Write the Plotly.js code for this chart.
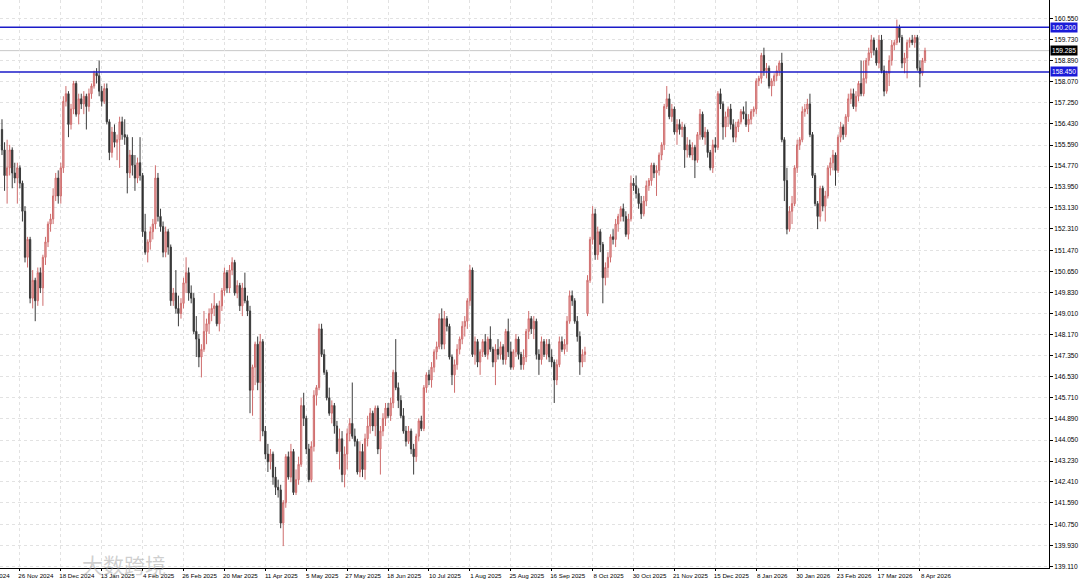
<!DOCTYPE html>
<html><head><meta charset="utf-8">
<script src="https://cdn.plot.ly/plotly-3.0.1.min.js"></script>
<style>html,body{margin:0;padding:0;background:#fff;overflow:hidden}#chart{width:1080px;height:583px}</style>
</head><body><div id="chart"></div>
<script>
const openP = [
156.2,155.4,154.4,154.7,155.4,154.5,154.3,154.7,154.1,153.0,
151.2,151.9,149.6,150.3,149.5,150.6,150.0,151.2,151.8,152.5,
152.7,153.6,154.3,153.6,154.7,157.3,157.6,156.4,157.0,158.0,
156.8,157.4,157.2,157.5,157.1,157.6,157.9,158.4,158.3,157.7,
157.3,157.8,156.5,155.3,156.1,155.7,155.8,156.5,156.0,155.9,
154.5,155.2,154.8,154.3,154.9,154.4,152.2,151.4,151.8,152.2,
152.5,154.3,152.8,152.4,151.4,152.2,151.6,149.5,149.8,149.2,
149.0,149.4,150.2,150.6,149.8,149.6,148.3,148.0,147.3,147.6,
148.3,148.6,149.0,149.2,149.3,148.6,149.3,149.9,150.6,150.0,
150.7,151.0,149.8,150.1,149.3,150.0,149.5,149.1,146.0,146.9,
147.8,146.3,147.9,144.4,143.5,143.2,143.5,142.6,142.2,142.1,
140.8,141.6,143.4,142.6,143.6,142.0,142.5,143.1,145.4,144.9,
143.7,142.5,143.8,145.8,146.1,148.4,147.4,146.7,145.7,145.1,
145.4,144.6,143.6,144.1,142.7,143.5,144.3,144.7,144.2,144.0,
142.8,143.6,142.9,144.1,144.6,145.1,144.6,145.3,143.7,144.4,
144.9,145.3,145.0,145.5,146.7,146.1,145.6,145.0,144.4,144.0,
144.4,143.7,143.4,144.2,144.8,144.5,146.1,146.6,146.4,146.9,
147.5,147.7,148.8,147.8,148.8,148.5,147.3,146.6,147.0,147.6,
148.0,148.5,148.7,149.5,150.7,147.4,147.9,147.1,147.5,147.9,
147.4,148.0,147.6,147.1,147.6,147.4,147.7,147.2,148.3,147.5,
146.9,147.5,148.0,147.4,147.0,147.3,148.3,148.8,148.4,148.7,
147.4,147.2,147.9,147.4,147.8,147.3,147.1,146.4,147.0,147.9,
147.6,147.8,148.7,149.7,149.5,148.7,148.1,147.1,147.4,149.0,
150.3,151.9,152.9,151.3,152.2,151.7,150.4,150.8,151.2,152.0,
151.9,152.5,152.8,153.1,152.8,152.1,152.7,154.1,154.0,153.7,
153.3,152.9,153.4,154.0,154.2,154.8,154.5,154.6,155.2,155.6,
157.1,157.4,156.7,157.0,156.1,156.4,156.2,156.3,155.4,155.6,
155.2,155.5,155.0,156.0,156.8,155.9,156.1,155.3,154.7,155.6,
155.5,157.6,157.2,156.3,156.7,157.0,156.4,155.9,156.3,156.5,
156.9,156.8,156.4,156.6,156.9,157.0,158.1,158.2,159.1,158.5,
158.6,157.9,158.1,158.3,158.5,158.8,155.8,154.2,152.3,153.0,
153.3,154.7,155.6,155.8,156.9,157.0,157.2,156.0,154.4,153.3,
152.8,153.9,153.2,153.6,154.7,154.9,155.2,154.6,155.9,156.3,
156.0,156.7,157.4,157.6,157.1,157.5,158.0,157.6,158.2,158.9,
159.2,159.7,159.3,158.8,159.7,158.5,157.7,158.4,158.9,159.5,
159.6,160.2,159.8,158.8,159.0,159.6,159.7,159.6,159.8,158.6,
158.4,158.9];
const highP = [
156.6,155.7,155.8,155.6,155.5,154.9,154.9,154.8,154.2,153.2,
152.0,152.0,150.7,150.4,150.8,150.8,151.3,152.0,152.6,152.9,
153.9,154.5,154.6,154.9,157.5,157.9,157.7,157.2,158.1,158.1,
157.6,157.6,157.7,157.6,157.8,158.0,158.5,158.6,158.9,157.9,
158.0,158.0,156.6,156.3,156.4,156.0,156.7,156.7,156.6,156.0,
155.4,155.9,155.2,155.1,155.9,154.5,152.9,151.9,152.4,152.7,
154.8,154.5,153.1,152.6,152.4,152.3,151.7,150.0,150.7,149.7,
149.6,150.4,151.2,150.8,150.1,149.8,148.9,148.2,147.8,149.1,
148.8,149.2,149.4,149.8,149.4,149.5,150.0,150.8,150.7,150.9,
151.2,151.1,150.3,150.2,150.2,150.6,149.7,149.3,147.0,147.9,
148.1,148.2,148.0,144.6,143.9,143.7,143.6,143.0,142.5,142.3,
141.7,143.5,143.6,143.9,143.7,142.9,143.4,145.7,145.9,145.0,
143.9,144.0,146.0,146.2,148.6,148.6,147.6,146.8,146.1,145.6,
145.5,144.8,144.5,144.4,143.8,144.5,144.9,146.3,144.5,144.1,
144.0,143.9,144.3,145.0,145.3,145.2,145.4,145.4,144.6,145.1,
145.5,145.5,145.7,146.8,148.0,146.3,145.8,145.3,144.6,144.6,
144.5,143.9,144.3,144.9,145.0,146.2,146.7,146.8,147.1,147.6,
147.9,149.0,149.2,149.1,148.9,148.6,147.4,147.2,147.8,148.1,
148.7,148.9,149.6,150.9,150.8,148.1,148.0,147.6,148.0,148.2,
148.1,148.5,147.7,147.8,148.0,147.9,147.8,148.4,148.8,147.9,
147.6,148.2,148.1,147.5,147.6,148.4,149.1,148.9,148.9,148.8,
147.6,148.1,148.0,148.0,148.0,147.6,147.2,147.2,148.1,148.1,
148.0,148.9,149.9,149.9,149.6,148.9,148.3,147.6,147.7,150.5,
152.0,153.2,153.1,152.4,152.3,151.8,151.0,151.4,152.1,152.3,
152.7,152.9,153.2,153.3,153.0,152.9,154.4,154.3,154.4,153.9,
153.6,153.6,154.2,154.3,154.9,154.9,154.8,155.3,155.7,157.2,
157.9,157.6,157.2,157.1,156.6,156.6,156.5,156.4,155.9,155.8,
155.7,155.6,156.1,157.0,156.9,156.3,156.2,155.4,155.8,155.9,
157.7,157.8,157.3,156.9,157.1,157.2,156.6,156.5,156.6,157.0,
157.1,157.3,156.8,157.0,157.1,158.2,158.3,159.2,159.4,158.8,
158.7,158.2,158.4,158.7,158.9,159.2,155.9,154.7,153.2,153.6,
154.8,155.8,155.9,157.1,157.2,157.4,157.6,156.1,154.5,153.4,
154.0,154.0,153.8,154.8,155.1,155.4,155.3,156.0,156.5,156.4,
156.8,157.6,157.8,157.8,157.7,158.1,158.9,158.9,159.0,159.4,
159.9,159.8,159.4,159.9,159.9,158.7,158.5,159.1,159.7,159.7,
160.5,160.3,159.9,159.2,159.7,159.8,159.9,159.9,159.9,158.9,
159.0,159.4];
const lowP = [
155.2,153.8,153.3,154.4,153.9,154.1,153.3,153.9,152.6,151.0,
150.8,149.4,149.2,148.7,149.3,149.8,149.3,150.9,151.6,152.2,
152.5,153.4,153.3,153.3,154.5,157.1,155.9,156.2,156.8,156.7,
156.4,157.0,156.8,156.2,156.9,157.4,157.8,158.0,157.5,157.1,
157.2,156.4,155.0,155.1,155.5,155.0,154.7,155.8,155.6,153.7,
154.3,154.4,153.8,154.1,154.2,152.0,151.3,151.0,151.5,151.9,
152.3,152.6,152.2,151.2,151.2,151.3,149.3,149.3,149.0,148.5,
148.8,149.2,149.8,149.5,149.4,148.2,147.3,146.9,146.5,147.5,
147.8,148.2,148.7,148.9,148.5,148.3,149.1,149.7,149.8,149.8,
150.5,149.7,149.6,149.1,148.9,149.4,148.9,145.1,145.0,146.2,
146.0,144.0,144.2,143.3,142.8,142.9,142.3,141.9,141.8,140.6,
139.9,141.4,142.5,142.4,141.9,141.9,142.3,143.0,144.6,143.5,
142.4,142.4,143.6,145.4,146.0,147.3,146.6,145.6,145.0,144.7,
144.3,143.5,142.9,142.4,142.2,142.9,144.0,144.1,143.8,142.7,
142.6,142.6,142.5,143.8,144.3,144.4,144.2,143.5,142.7,144.2,
144.6,144.9,144.8,145.3,146.0,145.3,144.9,144.3,143.8,143.9,
143.5,142.7,143.2,144.0,144.4,144.4,145.9,146.2,146.1,146.7,
147.2,147.6,147.6,147.6,148.3,147.2,146.2,145.9,146.8,147.4,
147.8,148.1,148.4,149.3,147.3,147.0,146.9,146.6,147.3,147.3,
147.2,147.5,146.9,146.2,147.2,147.2,147.0,147.0,147.3,146.8,
146.8,147.3,147.2,146.8,146.8,147.1,148.0,148.2,148.0,147.2,
146.6,147.0,147.3,147.2,147.1,146.9,145.5,146.2,146.9,147.5,
147.4,147.5,148.6,149.3,148.6,147.9,146.6,146.9,147.1,148.9,
150.2,151.7,151.1,151.1,151.4,149.4,150.1,150.4,151.0,151.7,
151.6,152.2,152.6,152.6,152.0,151.9,152.6,153.8,153.5,153.1,
152.7,152.8,153.2,153.8,154.0,154.3,153.6,154.4,155.0,155.4,
157.0,156.6,156.5,156.0,155.6,156.0,155.9,154.7,155.1,155.1,
155.0,154.3,154.9,155.8,155.8,155.6,155.1,154.6,154.5,155.3,
155.4,157.0,155.8,155.9,156.3,156.2,155.7,155.7,156.1,156.4,
156.6,156.3,156.1,156.4,156.7,156.8,157.9,158.0,158.3,158.2,
157.8,157.5,157.9,158.1,158.3,155.7,153.4,152.1,152.2,152.5,
153.2,154.5,155.4,155.7,156.7,156.8,155.9,154.3,153.2,152.3,
152.6,153.0,152.6,153.5,154.4,154.6,154.0,154.5,155.7,155.8,
155.9,156.5,157.2,157.0,156.9,157.3,157.5,157.5,158.0,158.7,
159.0,159.1,158.7,158.6,158.4,157.5,157.6,157.9,158.7,159.3,
159.5,159.6,158.6,158.4,158.2,159.4,159.5,159.4,158.5,157.85,
158.3,158.8];
const closeP = [
155.4,154.4,154.7,155.4,154.5,154.3,154.7,154.1,153.0,151.2,
151.9,149.6,150.3,149.5,150.6,150.0,151.2,151.8,152.5,152.7,
153.6,154.3,153.6,154.7,157.3,157.6,156.4,157.0,158.0,156.8,
157.4,157.2,157.5,157.1,157.6,157.9,158.4,158.3,157.7,157.3,
157.8,156.5,155.3,156.1,155.7,155.8,156.5,156.0,155.9,154.5,
155.2,154.8,154.3,154.9,154.4,152.2,151.4,151.8,152.2,152.5,
154.3,152.8,152.4,151.4,152.2,151.6,149.5,149.8,149.2,149.0,
149.4,150.2,150.6,149.8,149.6,148.3,148.0,147.3,147.6,148.3,
148.6,149.0,149.2,149.3,148.6,149.3,149.9,150.6,150.0,150.7,
151.0,149.8,150.1,149.3,150.0,149.5,149.1,146.0,146.9,147.8,
146.3,147.9,144.4,143.5,143.2,143.5,142.6,142.2,142.1,140.8,
141.6,143.4,142.6,143.6,142.0,142.5,143.1,145.4,144.9,143.7,
142.5,143.8,145.8,146.1,148.4,147.4,146.7,145.7,145.1,145.4,
144.6,143.6,144.1,142.7,143.5,144.3,144.7,144.2,144.0,142.8,
143.6,142.9,144.1,144.6,145.1,144.6,145.3,143.7,144.4,144.9,
145.3,145.0,145.5,146.7,146.1,145.6,145.0,144.4,144.0,144.4,
143.7,143.4,144.2,144.8,144.5,146.1,146.6,146.4,146.9,147.5,
147.7,148.8,147.8,148.8,148.5,147.3,146.6,147.0,147.6,148.0,
148.5,148.7,149.5,150.7,147.4,147.9,147.1,147.5,147.9,147.4,
148.0,147.6,147.1,147.6,147.4,147.7,147.2,148.3,147.5,146.9,
147.5,148.0,147.4,147.0,147.3,148.3,148.8,148.4,148.7,147.4,
147.2,147.9,147.4,147.8,147.3,147.1,146.4,147.0,147.9,147.6,
147.8,148.7,149.7,149.5,148.7,148.1,147.1,147.4,147.5,150.3,
151.9,152.9,151.3,152.2,151.7,150.4,150.8,151.2,152.0,151.9,
152.5,152.8,153.1,152.8,152.1,152.7,154.1,154.0,153.7,153.3,
152.9,153.4,154.0,154.2,154.8,154.5,154.6,155.2,155.6,157.1,
157.4,156.7,157.0,156.1,156.4,156.2,156.3,155.4,155.6,155.2,
155.5,155.0,156.0,156.8,155.9,156.1,155.3,154.7,155.6,155.5,
157.6,157.2,156.3,156.7,157.0,156.4,155.9,156.3,156.5,156.9,
156.8,156.4,156.6,156.9,157.0,158.1,158.2,159.1,158.5,158.6,
157.9,158.1,158.3,158.5,158.8,155.8,154.2,152.3,153.0,153.3,
154.7,155.6,155.8,156.9,157.0,157.2,156.0,154.4,153.3,152.8,
153.9,153.2,153.6,154.7,154.9,155.2,154.6,155.9,156.3,156.0,
156.7,157.4,157.6,157.1,157.5,158.0,157.6,158.2,158.9,159.2,
159.7,159.3,158.8,159.7,158.5,157.7,158.4,158.9,159.5,159.6,
160.2,159.8,158.8,159.0,159.6,159.7,159.6,159.8,158.6,158.4,
158.9,159.285];

const dateLabels = ["26 Nov 2024","18 Dec 2024","13 Jan 2025","4 Feb 2025","26 Feb 2025","20 Mar 2025",
  "11 Apr 2025","5 May 2025","27 May 2025","18 Jun 2025","10 Jul 2025","1 Aug 2025","25 Aug 2025",
  "16 Sep 2025","8 Oct 2025","30 Oct 2025","21 Nov 2025","15 Dec 2025","8 Jan 2026","30 Jan 2026",
  "23 Feb 2026","17 Mar 2026","8 Apr 2026"];
const offLabel = "4 Nov 2024";
const priceTicks = [139.110,139.930,140.750,141.590,142.410,143.230,144.050,144.890,145.710,146.530,
  147.350,148.170,149.010,149.830,150.650,151.470,152.310,153.130,153.950,154.770,155.590,156.430,
  157.250,158.070,158.890,159.730,160.550];
const levelLines = [160.200, 158.450];
const lastPrice = 159.285;
const watermark = "大数跨境";

// layout helpers
const barsPerLabel = 16, firstLabelBar = 7;
const x = closeP.map((_, i) => i);
const tickBars = dateLabels.map((_, k) => firstLabelBar + barsPerLabel * k);
const fam = "Liberation Sans, Arial, sans-serif";
const yfnt = {family: fam, size: 6.6, color: "#000"};
const xfnt = {family: fam, size: 6.2, color: "#000"};

const trace = {
  type: "candlestick", x: x, open: openP, high: highP, low: lowP, close: closeP,
  increasing: {line: {color: "#cf6d6d", width: 1}, fillcolor: "#ecaeae"},
  decreasing: {line: {color: "#3c3c3c", width: 1}, fillcolor: "#202020"},
  whiskerwidth: 0, hoverinfo: "skip", showlegend: false
};

const shapes = levelLines.map(v => ({type: "line", xref: "paper", x0: 0, x1: 1, yref: "y", y0: v, y1: v,
  line: {color: "#1b1bc8", width: 1.5}, layer: "above"}));
shapes.unshift({type: "line", xref: "paper", x0: 0, x1: 1, yref: "y", y0: lastPrice, y1: lastPrice,
  line: {color: "#c8c8c8", width: 1}, layer: "below"});

const annotations = levelLines.map(v => ({xref: "paper", x: 1, xanchor: "left", xshift: 1, yref: "y", y: v,
  text: v.toFixed(3), showarrow: false, font: {family: fam, size: 6.6, color: "#fff"},
  bgcolor: "#1b1bd8", borderpad: 1}));
annotations.push({xref: "paper", x: 1, xanchor: "left", xshift: 1, yref: "y", y: lastPrice,
  text: lastPrice.toFixed(3), showarrow: false, font: {family: fam, size: 6.6, color: "#fff"},
  bgcolor: "#000", borderpad: 1});
annotations.push({xref: "paper", x: 0, xanchor: "left", xshift: -24, yref: "paper", y: 0, yanchor: "top",
  yshift: -2, text: offLabel, showarrow: false, font: xfnt});
annotations.push({xref: "paper", x: 0, xanchor: "left", xshift: 80, yref: "paper", y: 0, yanchor: "middle",
  yshift: 4, text: watermark, showarrow: false,
  font: {family: "Noto Sans CJK SC", size: 21, color: "rgba(160,160,160,0.5)"}});

const layout = {
  width: 1080, height: 583,
  margin: {l: 0, r: 31, t: 0, b: 15, pad: 0},
  paper_bgcolor: "#fff", plot_bgcolor: "#fff",
  showlegend: false,
  xaxis: {
    type: "linear", range: [-0.78, 409.5], rangeslider: {visible: false},
    tickmode: "array", tickvals: tickBars, ticktext: dateLabels, tickangle: 0, automargin: false,
    ticks: "outside", ticklen: 2, tickcolor: "#000", tickfont: xfnt, ticklabelshift: 16, ticklabelstandoff: 0,
    showline: true, linecolor: "#000", linewidth: 1,
    showgrid: true, gridcolor: "#e2e2e2", griddash: "dot", gridwidth: 1, zeroline: false,
    fixedrange: true
  },
  yaxis: {
    side: "right", range: [139.044, 161.266], automargin: false,
    tickmode: "array", tickvals: priceTicks, ticktext: priceTicks.map(v => v.toFixed(3)),
    ticks: "outside", ticklen: 3, tickcolor: "#000", tickfont: yfnt,
    showline: true, linecolor: "#000", linewidth: 1,
    showgrid: true, gridcolor: "#e2e2e2", griddash: "dot", gridwidth: 1, zeroline: false,
    fixedrange: true
  },
  shapes: shapes, annotations: annotations
};

Plotly.newPlot("chart", [trace], layout, {displayModeBar: false, staticPlot: true});
</script></body></html>
